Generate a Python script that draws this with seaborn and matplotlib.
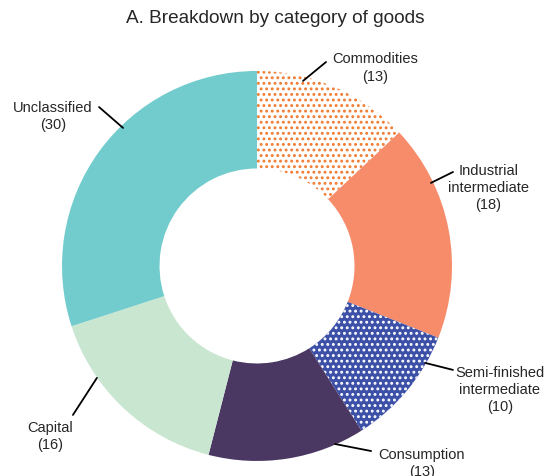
import numpy as np
import seaborn as sns
import matplotlib.pyplot as plt

sns.set_theme(style="white")
plt.rcParams['font.family'] = ['Liberation Sans', 'DejaVu Sans']
plt.rcParams['hatch.linewidth'] = 1.3

# data
categories = ['Commodities', 'Industrial\nintermediate', 'Semi-finished\nintermediate',
              'Consumption', 'Capital', 'Unclassified']
values = [13, 18, 10, 13, 16, 30]
colors = ['#ffffff', '#f78c6b', '#3d50a8', '#4a3862', '#c9e6d1', '#72cbcc']
hatch_colors = ['#f07a30', None, '#ffffff', None, None, None]

# label layout (text pos, line start on wedge, line end near text)
text_pos = [(0.605, 1.021), (1.187, 0.405), (1.246, -0.631),
            (0.846, -1.008), (-1.062, -0.869), (-1.046, 0.772)]
line_from = [(0.236, 0.949), (0.892, 0.426), (0.862, -0.497),
             (0.400, -0.913), (-0.821, -0.574), (-0.687, 0.708)]
line_to = [(0.354, 1.046), (1.005, 0.482), (1.005, -0.533),
           (0.585, -0.949), (-0.944, -0.764), (-0.810, 0.815)]

fig = plt.figure(figsize=(5.46, 4.77), dpi=100)
ax = fig.add_axes([0, 0, 1, 1])

wedges, _ = ax.pie(values, colors=colors, startangle=90, counterclock=False,
                   radius=1, wedgeprops=dict(width=0.5, linewidth=0))

for w, hc in zip(wedges, hatch_colors):
    if hc:
        w.set_edgecolor(hc)
        w.set_hatch('...')
        w.set_linewidth(0)

for lab, v, tp, lf, lt in zip(categories, values, text_pos, line_from, line_to):
    ax.plot([lf[0], lt[0]], [lf[1], lt[1]], color='black', lw=1.3)
    ax.text(tp[0], tp[1], f"{lab}\n({v})", ha='center', va='center',
            fontsize=10.5, linespacing=1.3)

ax.set_aspect('equal')
ax.set_xlim(-1.318, 1.482)
ax.set_ylim(-1.077, 1.369)
ax.axis('off')

fig.text(0.504, 0.962, 'A. Breakdown by category of goods', ha='center', va='center',
         fontsize=13.7)

fig.savefig('out.png', dpi=100)
